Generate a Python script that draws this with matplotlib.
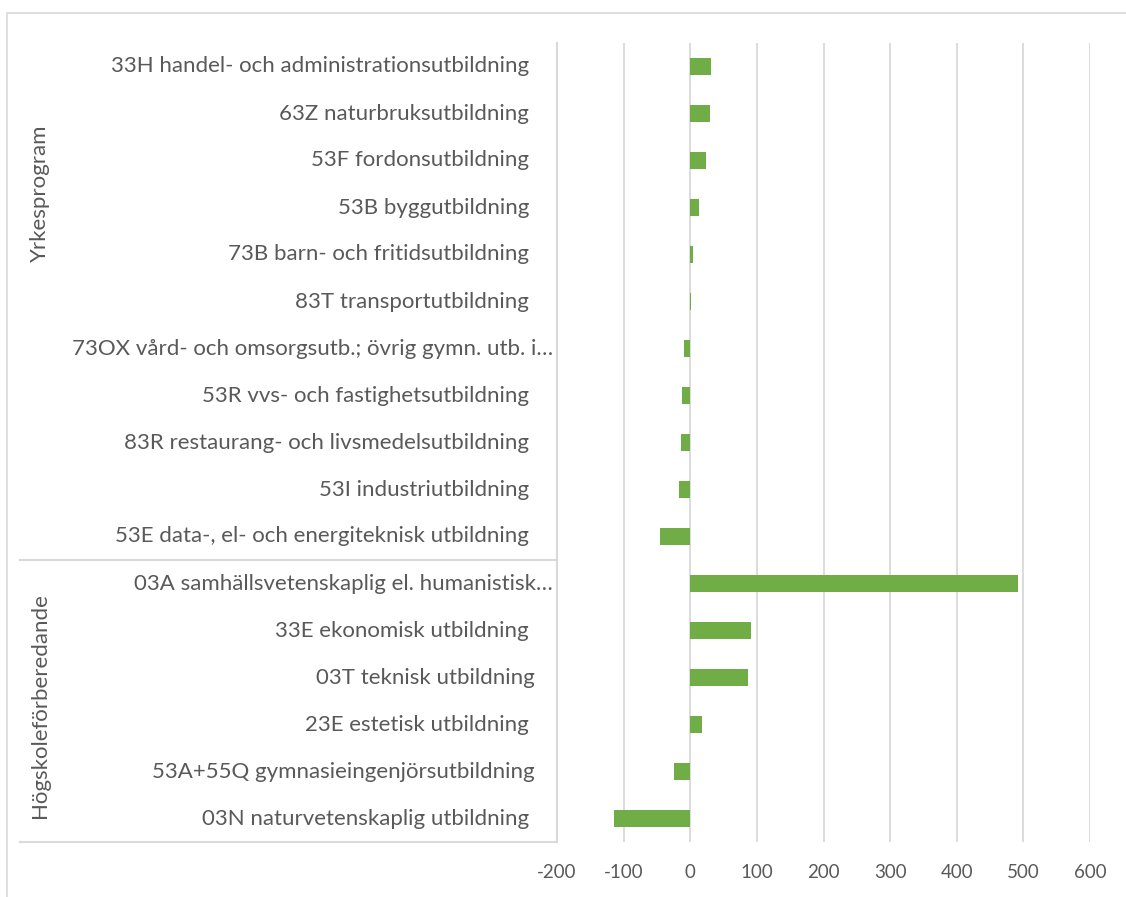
import numpy as np
import matplotlib
matplotlib.use('Agg')
import matplotlib.pyplot as plt
import matplotlib.transforms as mtrans
from matplotlib.lines import Line2D
from matplotlib.patches import Rectangle

plt.rcParams['font.family'] = ['Lato', 'DejaVu Sans']

# data (top to bottom)
labels = [
    '33H handel- och administrationsutbildning',
    '63Z naturbruksutbildning',
    '53F fordonsutbildning',
    '53B byggutbildning',
    '73B barn- och fritidsutbildning',
    '83T transportutbildning',
    '73OX vård- och omsorgsutb.; övrig gymn. utb. i…',
    '53R vvs- och fastighetsutbildning',
    '83R restaurang- och livsmedelsutbildning',
    '53I industriutbildning',
    '53E data-, el- och energiteknisk utbildning',
    '03A samhällsvetenskaplig el. humanistisk…',
    '33E ekonomisk utbildning',
    '03T teknisk utbildning',
    '23E estetisk utbildning',
    '53A+55Q gymnasieingenjörsutbildning',
    '03N naturvetenskaplig utbildning',
]
values = [31, 29, 23, 13, 4, 1, -9.5, -13, -14, -17, -45,
          492, 91, 86, 17.5, -24.5, -114]
groups = ['Yrkesprogram', 'Högskoleförberedande']
group_sizes = [11, 6]
xticks = [-200, -100, 0, 100, 200, 300, 400, 500, 600]

W, H = 1126, 897
fig = plt.figure(figsize=(W / 100, H / 100), dpi=100)
ax = fig.add_axes([557 / W, 1 - 842 / H, (1090 - 557) / W, (842 - 43) / H])

txt = '#595959'
grid = '#d9d9d9'
green = '#70ad47'
fs = 16

n = len(labels)
y = np.arange(n)
ax.barh(y, values, height=0.35, color=green, zorder=3)
ax.set_ylim(n - 0.5, -0.5)
ax.set_xlim(-200, 600)
ax.set_xticks(xticks)
ax.set_xticklabels([str(v) for v in xticks], color=txt, fontsize=13.5)
ax.tick_params(axis='x', length=0, pad=16)
ax.set_yticks([])
for s in ax.spines.values():
    s.set_visible(False)
ax.grid(axis='x', color=grid, linewidth=1.3, zorder=0)

px = lambda v: v / W
blend = mtrans.blended_transform_factory(fig.transFigure, ax.transData)

# category labels, right aligned
right_edge = {6: 553, 11: 553, 13: 535, 15: 535}
for i, lab in enumerate(labels):
    ax.text(px(right_edge.get(i, 529)), i, lab, ha='right', va='center',
            fontsize=fs, color=txt, transform=blend)

# group separators and labels
start = 0
group_centers = [193, 706]
for g, size, yc in zip(groups, group_sizes, group_centers):
    end = start + size
    ax.add_line(Line2D([px(20), px(557)], [end - 0.5, end - 0.5], transform=blend,
                       color=grid, linewidth=1.5, clip_on=False))
    fig.text(px(40), 1 - yc / H, g, rotation=90, ha='center', va='center',
             fontsize=fs, color=txt)
    start = end
ax.add_line(Line2D([px(557), px(557)], [-0.5, n - 0.5], transform=blend,
                   color=grid, linewidth=1.5, clip_on=False))

# outer frame
fig.patches.append(Rectangle((7.5 / W, -0.01), 1.05, 1 - 13.5 / H + 0.01,
                             transform=fig.transFigure, fill=False,
                             edgecolor=grid, linewidth=1.2))

fig.savefig('out.png', dpi=100)
